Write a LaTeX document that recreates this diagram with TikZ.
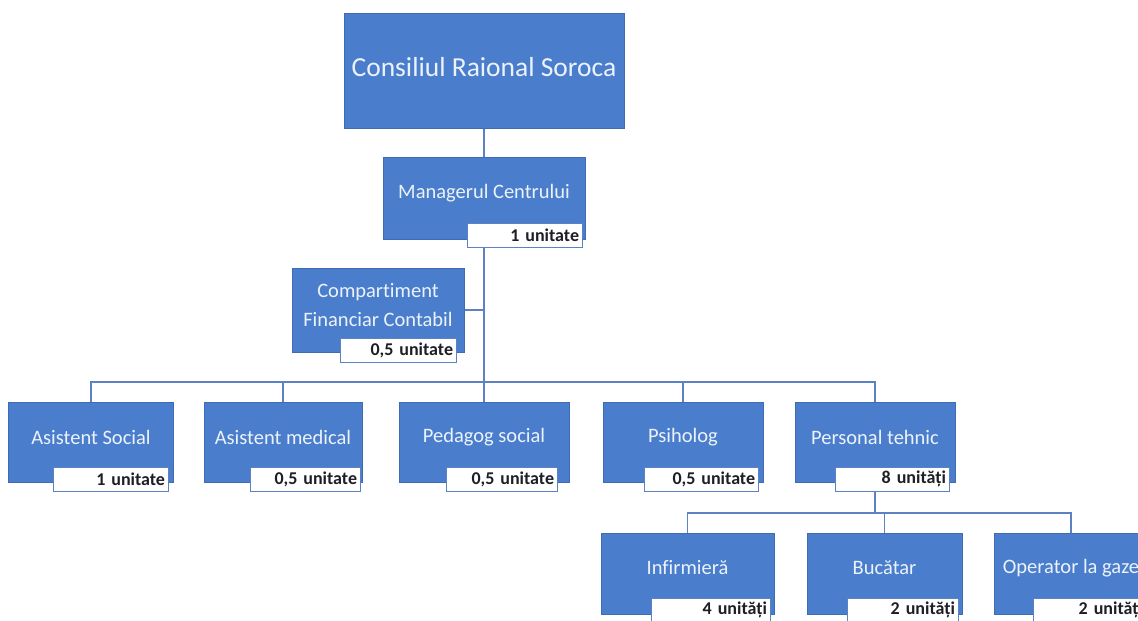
\documentclass[tikz,border=0pt]{standalone}
\usepackage{fontspec}
\setmainfont{Carlito}[Ligatures={NoCommon}]
\usetikzlibrary{backgrounds}
\definecolor{boxblue}{RGB}{74,126,204}
\definecolor{boxedge}{RGB}{62,108,180}
\definecolor{linecol}{RGB}{92,130,196}
\definecolor{labtext}{RGB}{30,30,38}
\definecolor{boxtext}{RGB}{236,242,250}
\tikzset{
  box/.style={draw=boxedge, line width=0.6pt, fill=boxblue, inner sep=0pt},
  btext/.style={text=boxtext, inner sep=0pt, font=\fontsize{20.5}{29}\selectfont, align=center},
  lab/.style={draw=linecol, line width=0.8pt, fill=white, inner xsep=3pt, inner ysep=0pt,
     minimum height=24, align=right, text=labtext, font=\bfseries\fontsize{18}{20}\selectfont},
  conn/.style={draw=linecol, line width=1.4pt}
}
\begin{document}
\begin{tikzpicture}[x=1pt,y=-1pt]
\useasboundingbox (0,0) rectangle (1138,621);
% coordinates of bars
\coordinate (bar) at (484,382);
\coordinate (sbar) at (875,513);
% top
\node[box, minimum width=280, minimum height=115] (cons) at (484,70.5) {};
\node[btext, font=\fontsize{27.5}{30}\selectfont] (consT) at (484,67) {Consiliul Raional Soroca};
% manager
\node[box, minimum width=202, minimum height=82] (mgr) at (484,198) {};
\node[btext] (mgrT) at (484,193) {Managerul Centrului};
\node[lab, text width=109] (mgrL) at (524.5,235.5) {1 unitate};
% compartiment
\node[box, minimum width=172, minimum height=84] (cmp) at (378,310) {};
\node[btext] (cmpT) at (378,305.5) {Compartiment\\Financiar Contabil};
\node[lab, text width=110] (cmpL) at (398,350) {0,5 unitate};
% row
\node[box, minimum width=165, minimum height=80] (as) at (91,442) {};
\node[btext] (asT) at (91,437) {Asistent Social};
\node[lab, text width=109] (asL) at (110.5,479) {1 unitate};
\node[box, minimum width=158, minimum height=80] (am) at (283,442) {};
\node[btext] (amT) at (283,437) {Asistent medical};
\node[lab, text width=104] (amL) at (305,479) {0,5 unitate};
\node[box, minimum width=170, minimum height=80] (pe) at (484,442) {};
\node[btext] (peT) at (484,437) {Pedagog social};
\node[lab, text width=105] (peL) at (501.5,479) {0,5 unitate};
\node[box, minimum width=160, minimum height=80] (psi) at (683,442) {};
\node[btext] (psiT) at (683,437) {Psiholog};
\node[lab, text width=108] (psiL) at (701,479) {0,5 unitate};
\node[box, minimum width=160, minimum height=80] (pt) at (875,442) {};
\node[btext] (ptT) at (875,437) {Personal tehnic};
\node[lab, text width=108] (ptL) at (892,479) {8 unități};
% sub row
\node[box, minimum width=173, minimum height=81] (inf) at (687.5,573.5) {};
\node[btext] (infT) at (687.5,568) {Infirmieră};
\node[lab, text width=113] (infL) at (710.5,610) {4 unități};
\node[box, minimum width=155, minimum height=81] (buc) at (884.5,573.5) {};
\node[btext] (bucT) at (884.5,568) {Bucătar};
\node[lab, text width=105] (bucL) at (902.5,610) {2 unități};
\node[box, minimum width=154, minimum height=81] (op) at (1071,573.5) {};
\node[btext] (opT) at (1071,568) {Operator la gaze};
\node[lab, text width=107] (opL) at (1089.5,610) {2 unități};
% connectors
\begin{pgfonlayer}{background}
\draw[conn] (cons) -- (mgr);
\draw[conn] (mgr) -- (bar);
\draw[conn] (cmp.east) -- (cmp.east -| bar);
\draw[conn] (as) |- (bar) -| (pt);
\draw[conn] (am) -- (am |- bar);
\draw[conn] (pe) -- (bar);
\draw[conn] (psi) -- (psi |- bar);
\draw[conn] (pt) -- (sbar);
\draw[conn] (inf) |- (sbar) -| (op);
\draw[conn] (buc) -- (buc |- sbar);
\end{pgfonlayer}
\end{tikzpicture}
\end{document}
